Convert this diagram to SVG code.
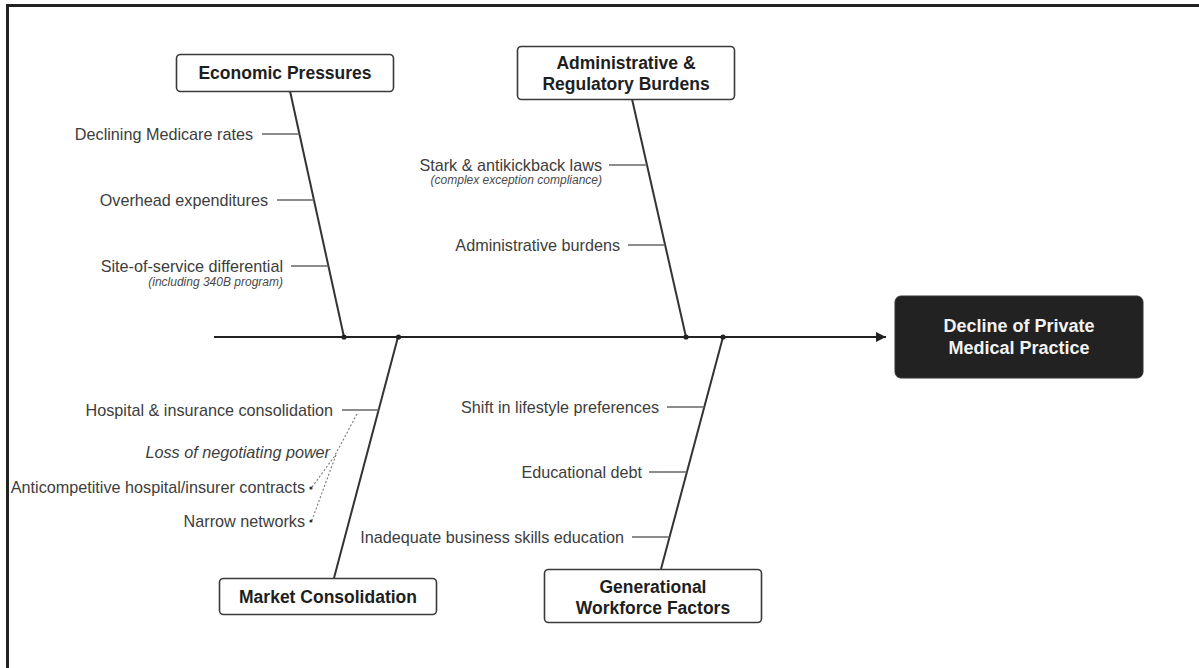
<svg xmlns="http://www.w3.org/2000/svg" width="1199" height="668" viewBox="0 0 1199 668">
<style>
.lbl{font-family:"Liberation Sans",Arial,sans-serif;font-size:16.2px;fill:#3d3d3d;text-anchor:end}
.sub{font-family:"Liberation Sans",Arial,sans-serif;font-size:12px;font-style:italic;fill:#4a4a4a;text-anchor:end}
.ital{font-style:italic}
.cat{font-family:"Liberation Sans",Arial,sans-serif;font-size:17.5px;font-weight:bold;fill:#1e1e1e;text-anchor:middle}
.eff{font-family:"Liberation Sans",Arial,sans-serif;font-size:18px;font-weight:bold;fill:#f2f2f2;text-anchor:middle}
.box{fill:#fff;stroke:#3a3a3a;stroke-width:1.6}
.bone{stroke:#333;stroke-width:2;fill:none}
.twig{stroke:#666;stroke-width:1.5;fill:none}
.dash{stroke:#777;stroke-width:1.1;stroke-dasharray:2 2;fill:none}
</style>
<defs>
<marker id="arr" viewBox="0 0 10 10" refX="10" refY="5" markerWidth="10" markerHeight="10" markerUnits="userSpaceOnUse" orient="auto">
<path d="M0,0 L10,5 L0,10 Z" fill="#222"/>
</marker>
</defs>
<rect x="0" y="0" width="1199" height="668" fill="#fff"/>
<rect x="7.5" y="5.5" width="1300" height="800" fill="none" stroke="#222" stroke-width="3"/>

<g id="connectors">
<line x1="214" y1="337" x2="886" y2="337" stroke="#222" stroke-width="2.2" marker-end="url(#arr)"/>
<line class="bone" x1="290" y1="91" x2="344" y2="337"/>
<line class="bone" x1="632" y1="99" x2="686" y2="337"/>
<line class="bone" x1="398" y1="337" x2="334" y2="578"/>
<line class="bone" x1="723" y1="337" x2="661" y2="569"/>
<circle cx="344" cy="337" r="2.6" fill="#222"/>
<circle cx="398.5" cy="337" r="2.6" fill="#222"/>
<circle cx="686" cy="337" r="2.6" fill="#222"/>
<circle cx="723" cy="337" r="2.6" fill="#222"/>
<line class="twig" x1="262" y1="134" x2="299.5" y2="134"/>
<line class="twig" x1="277" y1="200" x2="314" y2="200"/>
<line class="twig" x1="291" y1="266" x2="328.5" y2="266"/>
<line class="twig" x1="609" y1="165" x2="647" y2="165"/>
<line class="twig" x1="628" y1="245" x2="665" y2="245"/>
<line class="twig" x1="342" y1="410" x2="378.6" y2="410"/>
<line class="twig" x1="667" y1="407" x2="704.3" y2="407"/>
<line class="twig" x1="649" y1="472" x2="687" y2="472"/>
<line class="twig" x1="632" y1="537" x2="669.6" y2="537"/>
<polyline class="dash" points="357,414 334,457 312,487"/>
<polyline class="dash" points="336,455 312,520"/>
<circle cx="311" cy="488" r="1.6" fill="#333"/>
<circle cx="311" cy="521" r="1.6" fill="#333"/>
</g>

<g id="effect">
<rect x="895" y="296" width="248" height="82" rx="6" fill="#222" stroke="#333" stroke-width="1"/>
<text class="eff" x="1019" y="332">Decline of Private</text>
<text class="eff" x="1019" y="354">Medical Practice</text>
</g>

<g id="economic">
<rect class="box" x="176.5" y="54.5" width="217" height="37" rx="4"/>
<text class="cat" x="285" y="79">Economic Pressures</text>
<text class="lbl" x="253" y="139.5">Declining Medicare rates</text>
<text class="lbl" x="268" y="205.5">Overhead expenditures</text>
<text class="lbl" x="283" y="271.5">Site-of-service differential</text>
<text class="sub" x="283" y="286">(including 340B program)</text>
</g>

<g id="admin">
<rect class="box" x="517.5" y="46.5" width="217" height="53" rx="4"/>
<text class="cat" x="626" y="69">Administrative &amp;</text>
<text class="cat" x="626" y="90">Regulatory Burdens</text>
<text class="lbl" x="602" y="170.5">Stark &amp; antikickback laws</text>
<text class="sub" x="602" y="184">(complex exception compliance)</text>
<text class="lbl" x="620" y="250.5">Administrative burdens</text>
</g>

<g id="market">
<rect class="box" x="219.5" y="578.5" width="217" height="36" rx="4"/>
<text class="cat" x="328" y="603">Market Consolidation</text>
<text class="lbl" x="333" y="415.5">Hospital &amp; insurance consolidation</text>
<text class="lbl ital" x="330" y="457.5">Loss of negotiating power</text>
<text class="lbl" x="305" y="492.5">Anticompetitive hospital/insurer contracts</text>
<text class="lbl" x="305" y="526.5">Narrow networks</text>
</g>

<g id="generational">
<rect class="box" x="544.5" y="569.5" width="217" height="53" rx="4"/>
<text class="cat" x="653" y="593">Generational</text>
<text class="cat" x="653" y="614">Workforce Factors</text>
<text class="lbl" x="659" y="412.5">Shift in lifestyle preferences</text>
<text class="lbl" x="642" y="477.5">Educational debt</text>
<text class="lbl" x="624" y="542.5">Inadequate business skills education</text>
</g>
</svg>
